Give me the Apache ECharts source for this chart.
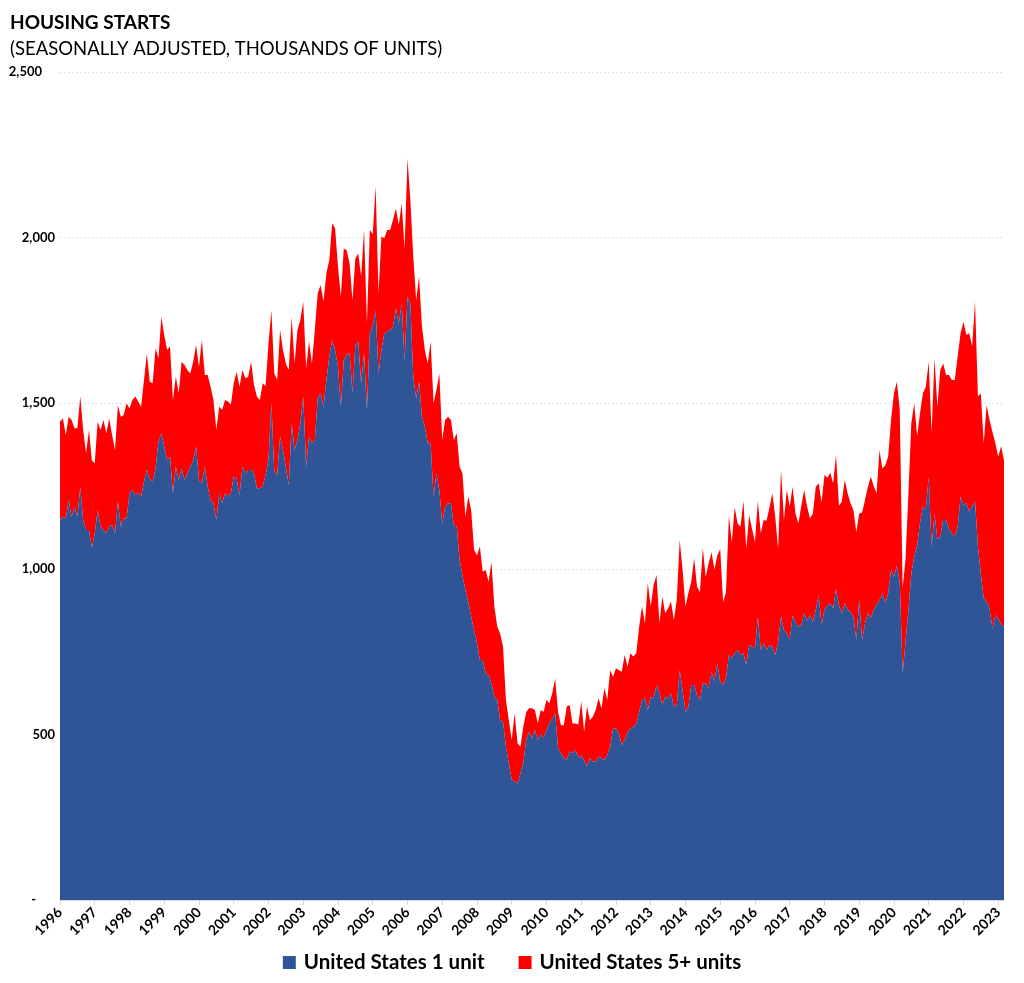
<!DOCTYPE html>
<html>
<head>
<meta charset="utf-8">
<script src="https://cdn.jsdelivr.net/npm/echarts@6/dist/echarts.min.js"></script>
<style>
html,body{margin:0;padding:0;background:#ffffff;}
#chart{width:1024px;height:983px;}
</style>
</head>
<body>
<div id="chart"></div>
<script>
// Tick labels (one per January)
const years = ['1996','1997','1998','1999','2000','2001','2002','2003','2004','2005','2006','2007','2008','2009','2010','2011','2012','2013','2014','2015','2016','2017','2018','2019','2020','2021','2022','2023'];
const seriesNames = ['United States 1 unit', 'United States 5+ units'];
const yTicks = [0, 500, 1000, 1500, 2000, 2500];

// Monthly starts, SAAR, thousands (Jan 1996 - Mar 2023)
const oneUnit = [
1147,1157,1152,1208,1157,1187,1157,1248,1147,1117,1117,1063,
1107,1177,1127,1117,1107,1127,1132,1107,1203,1127,1152,1152,
1228,1238,1223,1228,1218,1263,1298,1273,1263,1304,1384,1409,
1370,1328,1338,1228,1308,1268,1303,1268,1288,1308,1328,1369,
1268,1258,1308,1248,1208,1198,1147,1228,1198,1228,1218,1228,
1278,1273,1223,1308,1288,1298,1298,1288,1243,1243,1248,1283,
1330,1500,1293,1283,1399,1359,1308,1253,1439,1359,1389,1439,
1520,1308,1399,1379,1389,1515,1530,1489,1570,1641,1691,1661,
1610,1489,1630,1646,1651,1530,1676,1686,1560,1651,1479,1711,
1736,1781,1590,1661,1711,1716,1721,1731,1786,1741,1801,1630,
1821,1801,1580,1515,1565,1459,1429,1379,1379,1218,1288,1238,
1137,1188,1198,1198,1132,1127,1027,980,935,900,855,815,
775,725,725,684,680,654,614,604,543,538,463,413,
362,358,352,383,413,483,508,488,513,483,503,488,
513,533,548,563,458,443,428,423,448,443,453,430,
435,423,403,428,418,418,433,428,423,438,463,518,
518,503,468,483,508,518,523,533,568,604,609,574,
614,609,649,624,589,614,609,624,584,589,694,634,
568,584,649,649,619,604,654,654,640,690,660,715,
660,650,670,740,730,745,755,740,745,710,770,765,
760,855,755,775,755,770,765,740,780,855,815,805,
785,860,840,825,830,866,845,860,840,876,921,830,
876,890,895,881,940,890,866,896,876,870,855,785,
906,785,835,866,851,876,891,906,926,896,926,996,
976,1010,960,684,780,876,986,1037,1070,1140,1188,1180,
1278,1067,1167,1090,1097,1147,1147,1122,1107,1097,1127,1218,
1193,1198,1172,1188,1203,1067,986,911,901,881,820,860,
850,832,825
];

const fivePlus = [
297,297,252,251,292,237,267,272,272,232,302,265,
211,267,292,332,302,327,272,252,291,332,312,348,
256,272,297,277,271,307,352,292,297,362,252,352,
335,333,333,282,272,262,322,347,312,282,297,307,
342,433,277,337,342,312,272,261,282,282,287,267,
282,322,327,292,287,282,327,267,277,267,312,269,
350,281,297,287,322,302,312,347,322,261,332,312,
286,297,287,241,332,317,327,317,322,291,352,367,
302,332,337,316,271,281,261,266,322,372,262,312,
274,373,242,342,287,307,302,322,302,297,302,337,
418,312,362,296,317,272,232,241,307,282,252,352,
252,261,261,251,257,282,281,308,222,318,322,242,
265,342,266,312,281,367,272,221,262,227,141,130,
121,205,121,80,110,85,71,91,61,50,71,80,
91,61,76,106,110,85,100,161,141,90,80,100,
165,85,181,115,135,156,176,151,216,166,231,156,
182,191,221,257,196,227,212,212,257,282,226,382,
272,342,332,211,327,252,272,277,261,317,393,362,
318,342,312,383,327,326,408,321,377,360,338,325,
400,250,260,420,350,440,382,387,460,350,392,355,
320,350,352,372,390,415,463,417,280,443,332,433,
403,388,327,312,360,372,343,292,327,372,337,370,
407,385,395,377,404,300,337,372,352,328,322,325,
261,385,373,382,427,374,337,453,377,417,412,454,
554,555,520,258,250,354,454,463,330,330,342,370,
347,342,469,399,503,473,438,463,463,473,514,493,
553,508,539,483,603,453,544,468,593,568,594,520,
488,538,503
];

// Month categories built from the year list
const categories = [];
for (const y of years) {
  for (let m = 1; m <= 12; m++) {
    if (categories.length < oneUnit.length) categories.push(y + '-' + String(m).padStart(2, '0'));
  }
}

const FONT = 'Lato, "Open Sans", sans-serif';
const chart = echarts.init(document.getElementById('chart'), null, { renderer: 'canvas' });

chart.setOption({
  backgroundColor: '#ffffff',
  animation: false,
  title: {
    text: 'HOUSING STARTS',
    subtext: '(SEASONALLY ADJUSTED, THOUSANDS OF UNITS)',
    left: 5,
    top: 8,
    itemGap: 8,
    textStyle: { fontFamily: FONT, fontSize: 19, fontWeight: 'bold', color: '#000000' },
    subtextStyle: { fontFamily: FONT, fontSize: 18.5, fontWeight: 'normal', color: '#000000' }
  },
  legend: {
    data: seriesNames,
    bottom: 5,
    left: 'center',
    icon: 'rect',
    itemWidth: 13,
    itemHeight: 13,
    itemGap: 34,
    textStyle: { fontFamily: FONT, fontSize: 20.5, fontWeight: 'bold', color: '#000000', padding: [0, 0, 0, 3] }
  },
  grid: { left: 60, right: 20, top: 72, bottom: 83, containLabel: false },
  xAxis: {
    type: 'category',
    data: categories,
    boundaryGap: false,
    axisLine: { show: true, lineStyle: { color: '#d9d9d9' } },
    axisTick: {
      show: true,
      length: 5,
      interval: function (idx) { return idx % 12 === 0; },
      lineStyle: { color: '#d9d9d9' }
    },
    axisLabel: {
      interval: function (idx) { return idx % 12 === 0; },
      formatter: function (v) { return v.slice(0, 4); },
      rotate: 45,
      margin: 10,
      fontFamily: FONT,
      fontSize: 14,
      fontWeight: 'bold',
      color: '#000000'
    },
    splitLine: { show: false }
  },
  yAxis: {
    type: 'value',
    min: yTicks[0],
    max: yTicks[yTicks.length - 1],
    interval: 500,
    axisLine: { show: false },
    axisTick: { show: false },
    axisLabel: {
      margin: 5,
      fontFamily: FONT,
      fontSize: 13,
      fontWeight: 'bold',
      color: '#000000',
      formatter: function (v) {
        if (v === 0) return '{z|-}';
        const s = v.toLocaleString('en-US');
        return v === 2500 ? '{t|' + s + '}' : s;
      },
      rich: {
        t: { fontFamily: FONT, fontSize: 13, fontWeight: 'bold', color: '#000000', padding: [0, 13, 0, 0] },
        z: { fontFamily: FONT, fontSize: 13, fontWeight: 'bold', color: '#000000', padding: [0, 19, 0, 0] }
      }
    },
    splitLine: { show: true, lineStyle: { color: '#e3e3e3', type: [2, 2], width: 1 } }
  },
  series: [
    {
      name: seriesNames[0],
      type: 'line',
      stack: 'starts',
      data: oneUnit,
      symbol: 'none',
      showSymbol: false,
      lineStyle: { width: 0 },
      areaStyle: { color: '#2F5597', opacity: 1 },
      itemStyle: { color: '#2F5597' },
      z: 3
    },
    {
      name: seriesNames[1],
      type: 'line',
      stack: 'starts',
      data: fivePlus,
      symbol: 'none',
      showSymbol: false,
      lineStyle: { width: 0 },
      areaStyle: { color: '#FF0000', opacity: 1 },
      itemStyle: { color: '#FF0000' },
      z: 2
    }
  ]
});
</script>
</body>
</html>
